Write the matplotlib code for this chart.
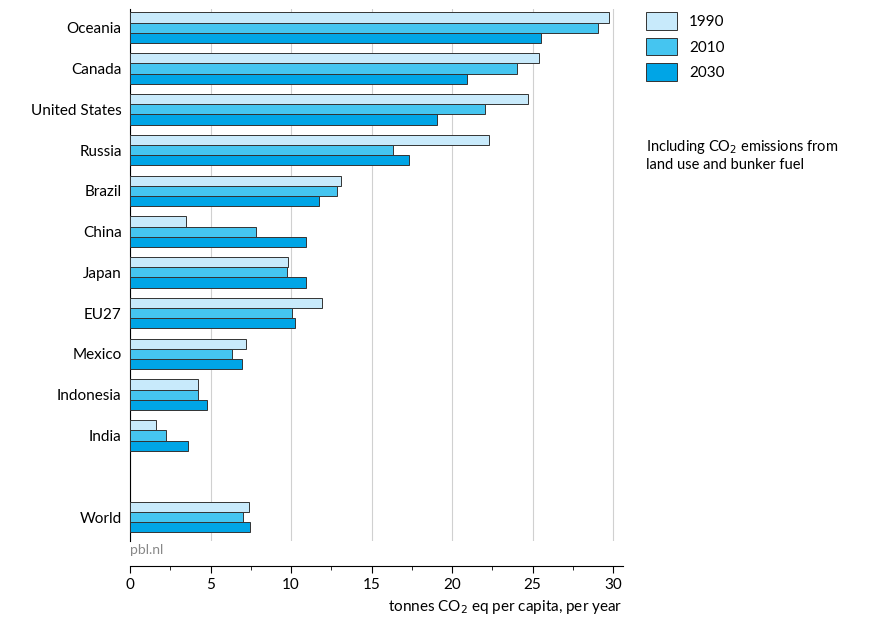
import matplotlib.pyplot as plt
import numpy as np

regions = ["Oceania", "Canada", "United States", "Russia", "Brazil", "China",
           "Japan", "EU27", "Mexico", "Indonesia", "India", "World"]
v1990 = [29.75, 25.4, 24.7, 22.3, 13.1, 3.5, 9.8, 11.9, 7.2, 4.2, 1.6, 7.4]
v2010 = [29.05, 24.0, 22.05, 16.3, 12.85, 7.8, 9.75, 10.05, 6.3, 4.2, 2.2, 7.0]
v2030 = [25.5, 20.9, 19.07, 17.3, 11.75, 10.9, 10.9, 10.25, 6.95, 4.8, 3.6, 7.45]
years = ["1990", "2010", "2030"]
colors = ["#c8eafb", "#45c5f0", "#00a5e6"]

plt.rcParams['font.family'] = ['Lato', 'DejaVu Sans']
fig = plt.figure(figsize=(8.73, 6.26), dpi=100)
ax = fig.add_axes([0.149, 0.135, 0.5644, 0.85])

pos = np.array(list(range(11)) + [12.0])
h = 0.25
for i, vals in enumerate([v1990, v2010, v2030]):
    ax.barh(pos + (i - 1) * h, vals, height=h, color=colors[i],
            edgecolor="#333333", linewidth=0.7, label=years[i], zorder=3)

ax.set_yticks(pos)
ax.set_yticklabels(regions, fontsize=11)
ax.set_ylim(12.6, -0.45)
ax.set_xlim(0, 30.6)
ax.set_xticks(range(0, 31, 5))
ax.set_xticks(np.arange(0, 31, 2.5), minor=True)
ax.tick_params(axis='y', length=0, pad=6)
ax.tick_params(axis='x', labelsize=11, length=5)
ax.tick_params(axis='x', which='minor', length=3)
ax.grid(axis='x', color="#d0d0d0", linewidth=0.8, zorder=0)
for s in ["top", "right"]:
    ax.spines[s].set_visible(False)
ax.spines["bottom"].set_position(("outward", 18))
ax.set_xlabel("tonnes CO$_2$ eq per capita, per year", fontsize=11, loc="right")
ax.text(0, 12.65, "pbl.nl", fontsize=10, color="#888888", va="top")

ax.legend(loc="upper left", bbox_to_anchor=(1.02, 1.02), frameon=False,
          fontsize=11, handlelength=2.0, handleheight=1.4, labelspacing=0.5)
fig.text(0.74, 0.78, "Including CO$_2$ emissions from\nland use and bunker fuel",
         fontsize=10.5, va="top")

fig.savefig("out.png")
